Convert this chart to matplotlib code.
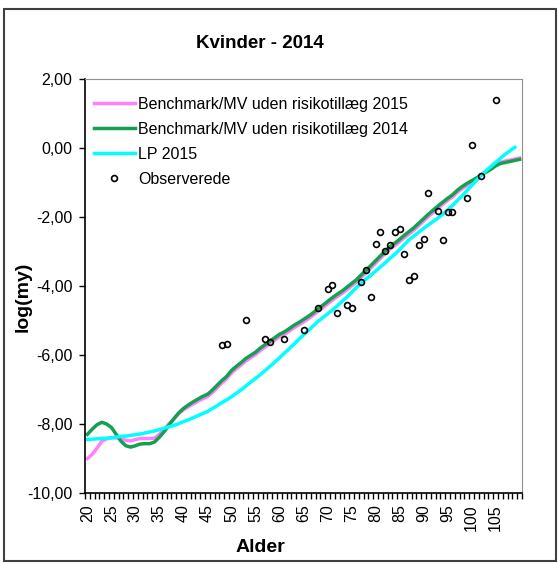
import numpy as np
import matplotlib.pyplot as plt
from matplotlib.patches import Rectangle
from matplotlib.ticker import FixedLocator, FuncFormatter

plt.rcParams['font.family'] = ['Liberation Sans', 'DejaVu Sans']

# Log mortality by age (women, 2014)
ages_bench = np.arange(20, 111)
bench_2015 = [
    -9.00, -8.88, -8.70, -8.50, -8.43, -8.40, -8.40, -8.42, -8.47, -8.49,
    -8.45, -8.42, -8.42, -8.42, -8.41, -8.30, -8.15, -7.99, -7.85, -7.70,
    -7.59, -7.50, -7.42, -7.34, -7.27, -7.21, -7.09, -6.95, -6.81, -6.69,
    -6.52, -6.40, -6.29, -6.17, -6.08, -5.99, -5.87, -5.77, -5.67, -5.57,
    -5.47, -5.40, -5.31, -5.21, -5.13, -5.04, -4.95, -4.85, -4.73, -4.63,
    -4.52, -4.41, -4.31, -4.22, -4.11, -4.00, -3.89, -3.75, -3.62, -3.48,
    -3.34, -3.20, -3.06, -2.93, -2.83, -2.72, -2.60, -2.49, -2.38, -2.25,
    -2.12, -1.99, -1.87, -1.75, -1.63, -1.52, -1.42, -1.29, -1.18, -1.09,
    -1.01, -0.93, -0.78, -0.68, -0.58, -0.48, -0.41, -0.38, -0.35, -0.32,
    -0.29,
]
bench_2014 = [
    -8.30, -8.15, -8.02, -7.95, -8.00, -8.10, -8.30, -8.50, -8.63, -8.67,
    -8.63, -8.58, -8.57, -8.57, -8.52, -8.38, -8.22, -8.03, -7.85, -7.68,
    -7.55, -7.45, -7.36, -7.28, -7.20, -7.14, -7.02, -6.88, -6.74, -6.62,
    -6.45, -6.33, -6.22, -6.10, -6.01, -5.92, -5.80, -5.70, -5.60, -5.50,
    -5.40, -5.33, -5.24, -5.14, -5.06, -4.97, -4.88, -4.78, -4.66, -4.56,
    -4.45, -4.34, -4.24, -4.15, -4.04, -3.93, -3.82, -3.68, -3.55, -3.41,
    -3.27, -3.13, -2.99, -2.86, -2.76, -2.65, -2.53, -2.42, -2.31, -2.18,
    -2.05, -1.92, -1.80, -1.68, -1.57, -1.46, -1.36, -1.23, -1.12, -1.03,
    -0.95, -0.87, -0.78, -0.70, -0.62, -0.52, -0.45, -0.42, -0.39, -0.36,
    -0.33,
]
ages_lp = np.arange(20, 110)
lp_2015 = [
    -8.45, -8.44, -8.43, -8.42, -8.41, -8.40, -8.38, -8.36, -8.35, -8.33,
    -8.31, -8.29, -8.26, -8.23, -8.20, -8.16, -8.12, -8.08, -8.04, -7.99,
    -7.93, -7.88, -7.82, -7.76, -7.70, -7.64, -7.55, -7.47, -7.38, -7.30,
    -7.21, -7.11, -7.01, -6.90, -6.79, -6.68, -6.57, -6.45, -6.33, -6.21,
    -6.08, -5.95, -5.82, -5.69, -5.55, -5.42, -5.29, -5.16, -5.03, -4.92,
    -4.81, -4.70, -4.58, -4.45, -4.33, -4.19, -4.05, -3.91, -3.80, -3.69,
    -3.57, -3.45, -3.33, -3.20, -3.08, -2.95, -2.80, -2.66, -2.55, -2.44,
    -2.33, -2.23, -2.13, -2.03, -1.92, -1.80, -1.67, -1.53, -1.39, -1.24,
    -1.09, -0.94, -0.79, -0.66, -0.54, -0.42, -0.30, -0.18, -0.08, 0.02,
]
obs_ages = [48, 49, 53, 57, 58, 61, 65, 68, 70, 71, 72, 74, 75, 77, 78, 79,
            80, 81, 82, 83, 84, 85, 86, 87, 88, 89, 90, 91, 93, 94, 95, 96,
            99, 100, 102, 105]
obs_vals = [-5.72, -5.67, -4.99, -5.54, -5.63, -5.54, -5.28, -4.65, -4.10,
            -3.96, -4.78, -4.56, -4.65, -3.87, -3.54, -4.31, -2.77, -2.43,
            -2.99, -2.81, -2.43, -2.34, -3.06, -3.83, -3.71, -2.81, -2.64,
            -1.31, -1.83, -2.68, -1.86, -1.86, -1.44, 0.10, -0.80, 1.38]

W, H = 558, 563
fig = plt.figure(figsize=(W / 100, H / 100), dpi=100)
ax = fig.add_axes([85 / W, 1 - 493 / H, 437 / W, 414 / H])

ax.plot(ages_bench, bench_2015, color='#FF80FF', lw=2.5,
        label='Benchmark/MV uden risikotillæg 2015')
ax.plot(ages_bench, bench_2014, color='#14A050', lw=2.5,
        label='Benchmark/MV uden risikotillæg 2014')
ax.plot(ages_lp, lp_2015, color='#00FFFF', lw=2.5, label='LP 2015')
ax.plot(obs_ages, obs_vals, ls='none', marker='o', ms=4.2, mfc='none',
        mec='black', mew=1.2, label='Observerede')

ax.set_xlim(19.5, 110.5)
ax.set_ylim(-10, 2)
ax.set_yticks(np.arange(-10, 3, 2))
ax.yaxis.set_major_formatter(FuncFormatter(lambda v, p: f'{v:.2f}'.replace('.', ',')))
ax.tick_params(axis='y', direction='out', length=4, width=1, pad=5, labelsize=11.5)

ax.xaxis.set_major_locator(FixedLocator(np.arange(20, 106, 5)))
ax.xaxis.set_minor_locator(FixedLocator(np.arange(19.5, 111, 1)))
ax.tick_params(axis='x', which='major', length=0, pad=8, labelsize=11.5,
               labelrotation=90)
ax.tick_params(axis='x', which='minor', direction='out', length=4, width=1)

for side in ('top', 'right'):
    ax.spines[side].set_color('#909090')
for side in ('left', 'bottom'):
    ax.spines[side].set_color('black')
    ax.spines[side].set_linewidth(1.2)

# axis titles and chart title placed in figure pixels
fig.text(260 / W, 1 - 547 / H, 'Alder', ha='center', va='center',
         fontsize=14, fontweight='bold')
fig.text(23 / W, 1 - 297 / H, 'log(my)', ha='center', va='center',
         rotation=90, fontsize=14, fontweight='bold')
fig.text(260 / W, 1 - 43 / H, 'Kvinder - 2014', ha='center', va='center',
         fontsize=13.5, fontweight='bold')

ax.legend(loc='upper left', bbox_to_anchor=(0.0206, 0.957), frameon=False,
          fontsize=11.5, handlelength=2.56, handletextpad=0.19,
          labelspacing=0.62, borderaxespad=0, borderpad=0)

# chart area border
fig.patches.append(Rectangle((4 / W, 2 / H), 552 / W, 552 / H,
                             transform=fig.transFigure, fill=False,
                             edgecolor='#404040', lw=1.5))

fig.savefig('out.png', dpi=100)
